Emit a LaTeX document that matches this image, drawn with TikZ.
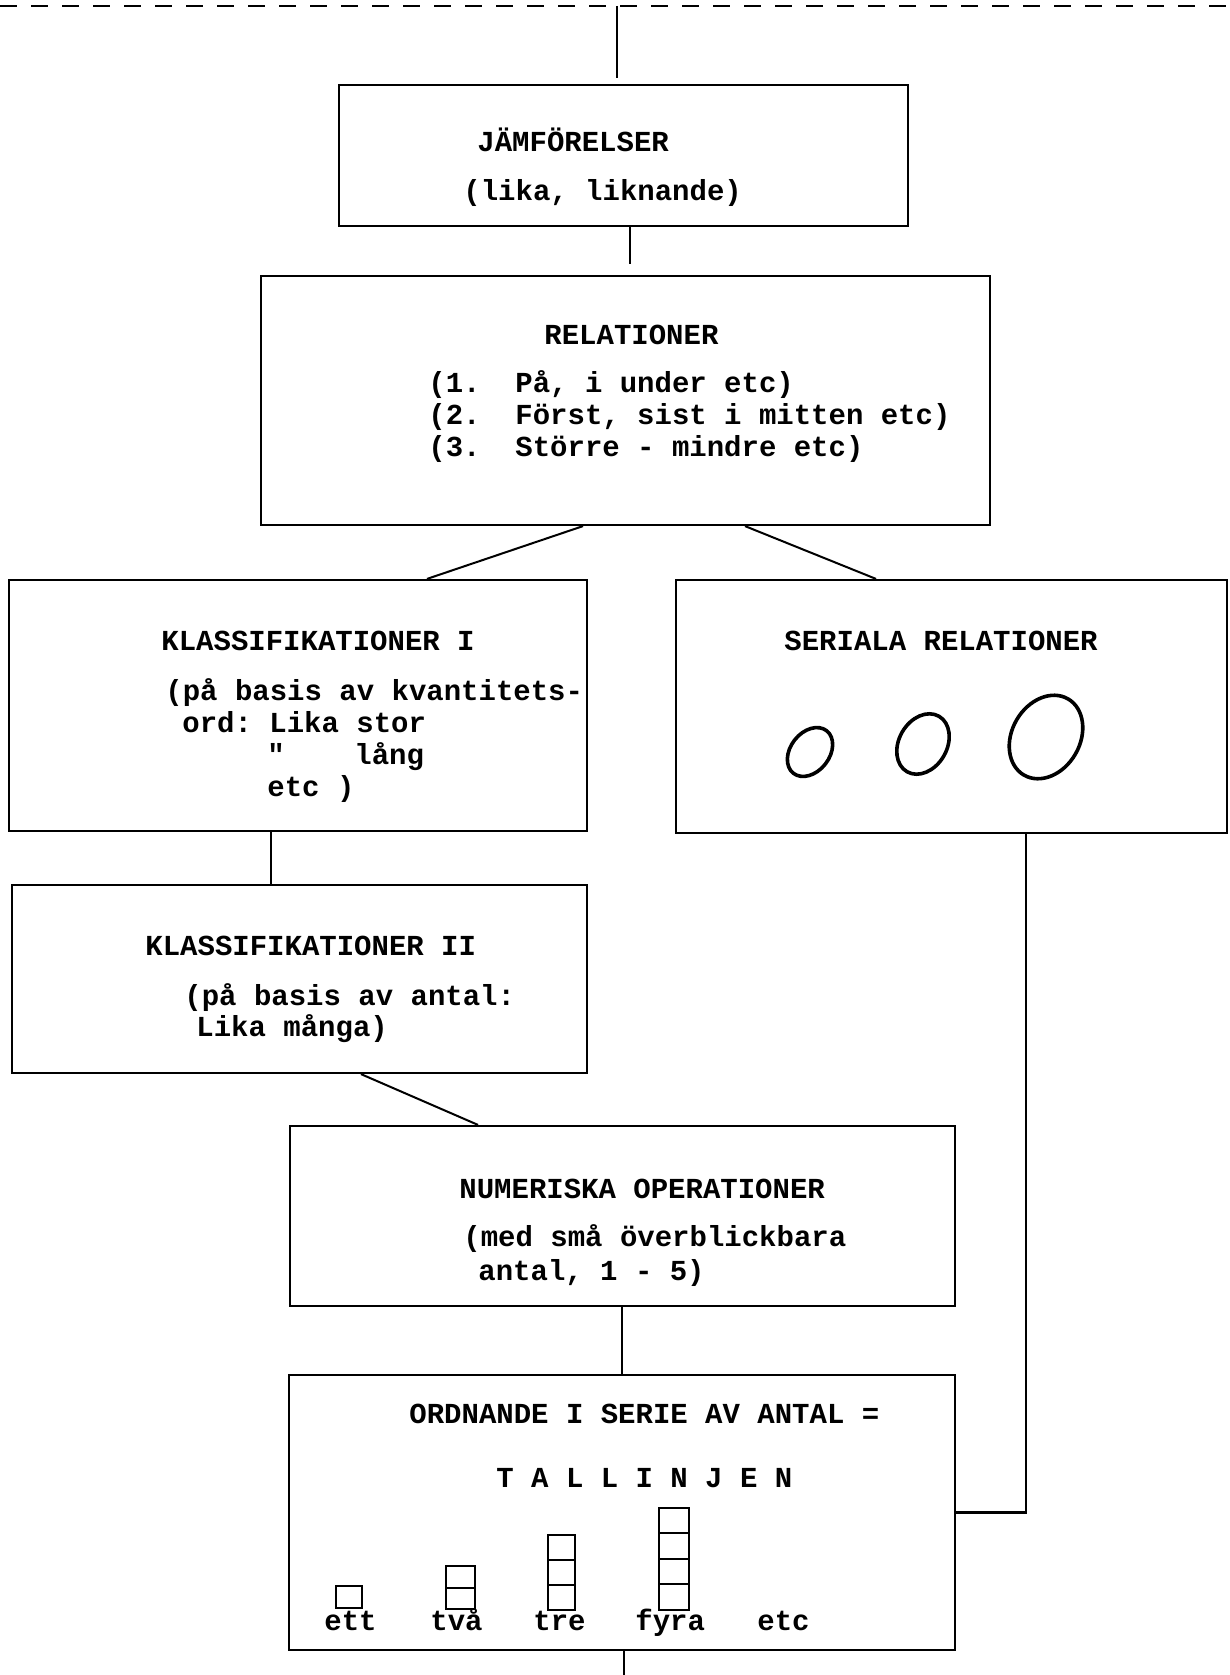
\documentclass[tikz,border=0pt]{standalone}
\usepackage{fontspec}
\setmonofont{Liberation Mono}
\usetikzlibrary{fit,calc}
\begin{document}
\begin{tikzpicture}[x=0.5pt,y=-0.5pt,
  box/.style={draw, line width=1.1pt, inner sep=0pt},
  txt/.style={anchor=base west, inner sep=0pt, font=\fontsize{14.5}{16}\selectfont\ttfamily\bfseries},
  conn/.style={line width=1pt},
  blob/.style={line width=1.8pt},
  cell/.style={line width=1.3pt}]
\useasboundingbox (0,0) rectangle (1230,1675);

% top dashed line
\draw[line width=1.4pt, dash pattern=on 8.5pt off 7pt] (0,6) -- (1230,6);
\coordinate (topc) at (617,6);
\coordinate (botc) at (624,1675);

% boxes
\node[box, fit={(339,85) (908,226)}] (jam) {};
\node[box, fit={(261,276) (990,525)}] (rel) {};
\node[box, fit={(9,580) (587,831)}] (kl1) {};
\node[box, fit={(676,580) (1227,833)}] (ser) {};
\node[box, fit={(12,885) (587,1073)}] (kl2) {};
\node[box, fit={(290,1126) (955,1306)}] (num) {};
\node[box, fit={(289,1375) (955,1650)}] (ord) {};

% texts
\node[txt] (jamT) at (477,151) {JÄMFÖRELSER};
\node[txt] (jamA) at (463,200) {(lika, liknande)};

\node[txt] (relT) at (544,344) {RELATIONER};
\node[txt] (relA) at (428,392) {(1.~~På, i under etc)};
\node[txt] (relB) at (428,424) {(2.~~Först, sist i mitten etc)};
\node[txt] (relC) at (428,456) {(3.~~Större - mindre etc)};

\node[txt] (kl1T) at (161,650) {KLASSIFIKATIONER I};
\node[txt] (kl1A) at (165,700) {(på basis av kvantitets-};
\node[txt] (kl1B) at (182,732) {ord: Lika stor};
\node[txt] (kl1C) at (267,764) {"~~~~lång};
\node[txt] (kl1D) at (267,796) {etc )};

\node[txt] (serT) at (784,650) {SERIALA RELATIONER};

\node[txt] (kl2T) at (145,955) {KLASSIFIKATIONER II};
\node[txt] (kl2A) at (184,1005) {(på basis av antal:};
\node[txt] (kl2B) at (196,1036) {Lika många)};

\node[txt] (numT) at (459,1198) {NUMERISKA OPERATIONER};
\node[txt] (numA) at (463,1246) {(med små överblickbara};
\node[txt] (numB) at (478,1280) {antal, 1 - 5)};

\node[txt] (ordT) at (409,1423) {ORDNANDE I SERIE AV ANTAL =};
\node[txt] (ordA) at (496,1487) {T A L L I N J E N};
\node[txt] (l1) at (324,1630) {ett};
\node[txt] (l2) at (430,1630) {två};
\node[txt] (l3) at (533,1630) {tre};
\node[txt] (l4) at (635,1630) {fyra};
\node[txt] (l5) at (757,1630) {etc};

% ellipses in SERIALA RELATIONER (tilted, top leaning right)
\draw[blob] (810,752) ellipse [x radius=19.5, y radius=27, rotate=-38];
\draw[blob] (923,744) ellipse [x radius=24, y radius=32, rotate=-30];
\draw[blob] (1046,737) ellipse [x radius=34, y radius=44, rotate=-30];

% number stacks
\draw[cell] (336,1586) rectangle (362,1608);
\draw[cell] (446,1566) rectangle (475,1609);
\draw[cell] (446,1588) -- (475,1588);
\draw[cell] (548,1535) rectangle (575,1610);
\draw[cell] (548,1560) -- (575,1560) (548,1585) -- (575,1585);
\draw[cell] (659,1508) rectangle (689,1610);
\draw[cell] (659,1533) -- (689,1533) (659,1559) -- (689,1559) (659,1584) -- (689,1584);

% connectors
\draw[conn, shorten >=3pt] (topc) -- (topc |- jam.north);
\draw[conn, shorten >=5.5pt] (630,0 |- jam.south) -- (630,0 |- rel.north);
\draw[conn] (583,0 |- rel.south) -- (427,0 |- kl1.north);
\draw[conn] (745,0 |- rel.south) -- (876,0 |- ser.north);
\draw[conn] (271,0 |- kl1.south) -- (271,0 |- kl2.north);
\draw[conn] (361,0 |- kl2.south) -- (478,0 |- num.north);
\draw[conn] (622,0 |- num.south) -- (622,0 |- ord.north);
\draw[conn, line width=1.3pt] (1026,0 |- ser.south) |- (ord.east);
\draw[conn] (624,0 |- ord.south) -- (botc);
\end{tikzpicture}
\end{document}
